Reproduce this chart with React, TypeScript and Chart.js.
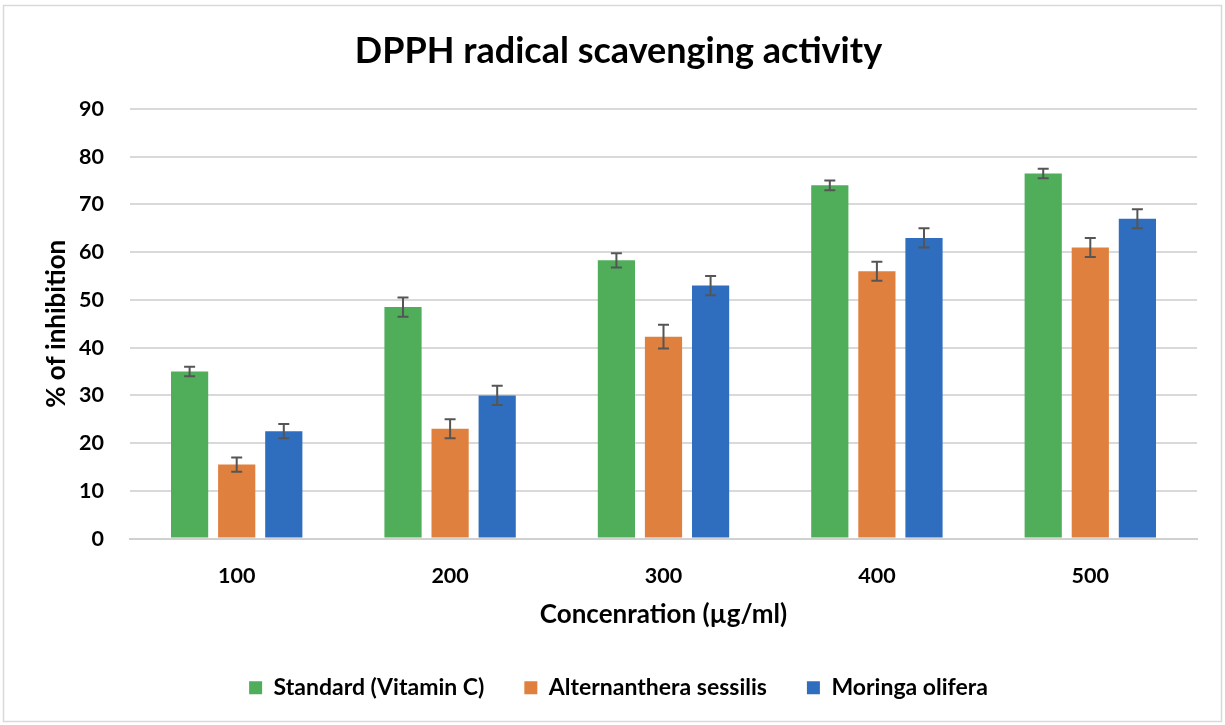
import React, { useEffect, useRef } from "react";
import { Chart, registerables } from "chart.js";

Chart.register(...registerables);

const categories = ["100", "200", "300", "400", "500"];
const seriesNames = ["Standard (Vitamin C)", "Alternanthera sessilis", "Moringa olifera"];
const standardValues = [35, 48.5, 58.3, 74, 76.5];
const standardErrors = [1, 2, 1.5, 1, 1];
const sessilisValues = [15.5, 23, 42.3, 56, 61];
const sessilisErrors = [1.5, 2, 2.5, 2, 2];
const moringaValues = [22.5, 30, 53, 63, 67];
const moringaErrors = [1.5, 2, 2, 2, 2];
const seriesColors = ["#50AE5B", "#E0803F", "#2F6EBE"];

const FONT = "Lato, 'Open Sans', sans-serif";

const errorBarPlugin = {
  id: "errorBars",
  afterDatasetsDraw(chart: any) {
    const ctx = chart.ctx;
    const y = chart.scales.y;
    chart.data.datasets.forEach((ds: any, i: number) => {
      const meta = chart.getDatasetMeta(i);
      meta.data.forEach((el: any, j: number) => {
        const v = ds.data[j];
        const e = ds.errors[j];
        const top = y.getPixelForValue(v + e);
        const bot = y.getPixelForValue(v - e);
        ctx.save();
        ctx.strokeStyle = "#555555";
        ctx.lineWidth = 2;
        ctx.beginPath();
        ctx.moveTo(el.x, top);
        ctx.lineTo(el.x, bot);
        ctx.moveTo(el.x - 5.5, top);
        ctx.lineTo(el.x + 5.5, top);
        ctx.moveTo(el.x - 5.5, bot);
        ctx.lineTo(el.x + 5.5, bot);
        ctx.stroke();
        ctx.restore();
      });
    });
  },
};

const borderPlugin = {
  id: "outerBorder",
  beforeDraw(chart: any) {
    const ctx = chart.ctx;
    ctx.save();
    ctx.fillStyle = "#ffffff";
    ctx.fillRect(0, 0, chart.width, chart.height);
    ctx.strokeStyle = "#d9d9d9";
    ctx.lineWidth = 1.5;
    ctx.strokeRect(3.5, 5.5, chart.width - 7, chart.height - 9);
    ctx.restore();
  },
};

export default function App() {
  const ref = useRef<HTMLCanvasElement>(null);
  useEffect(() => {
    if (!ref.current) return;
    const valuesList = [standardValues, sessilisValues, moringaValues];
    const errorsList = [standardErrors, sessilisErrors, moringaErrors];
    const chart = new Chart(ref.current, {
      type: "bar",
      data: {
        labels: categories,
        datasets: seriesNames.map((name, i) => ({
          label: name,
          data: valuesList[i],
          errors: errorsList[i],
          backgroundColor: seriesColors[i],
          borderWidth: 0,
          categoryPercentage: 0.662,
          barPercentage: 0.79,
        })) as any,
      },
      options: {
        animation: false,
        responsive: false,
        devicePixelRatio: 1,
        layout: { padding: { top: 12, right: 12, bottom: 15.8, left: 24 } },
        plugins: {
          title: {
            display: true,
            text: "DPPH radical scavenging activity",
            color: "#000000",
            font: { family: FONT, size: 36, weight: "bold" },
            padding: { top: 18, bottom: 35.8 },
          },
          legend: {
            position: "bottom",
            labels: {
              color: "#000000",
              boxWidth: 13,
              boxHeight: 13,
              padding: 40,
              font: { family: FONT, size: 23, weight: "bold" },
            },
          },
          tooltip: { enabled: false },
        },
        scales: {
          x: {
            afterFit: (scale: any) => {
              scale.height = 97.6;
            },
            grid: { display: false, drawTicks: false },
            border: { display: true, color: "#d0d0d0", width: 2 },
            ticks: {
              color: "#000000",
              padding: 25,
              font: { family: FONT, size: 21.5, weight: "bold" },
            },
            title: {
              display: true,
              text: "Concenration (µg/ml)",
              color: "#000000",
              font: { family: FONT, size: 26, weight: "bold" },
              padding: { top: 0, bottom: 6.2 },
            },
          },
          y: {
            min: 0,
            max: 90,
            afterFit: (scale: any) => {
              scale.width = 106;
            },
            ticks: {
              stepSize: 10,
              color: "#000000",
              padding: 26,
              font: { family: FONT, size: 21.5, weight: "bold" },
            },
            grid: { color: "#d9d9d9", lineWidth: 2, drawTicks: false },
            border: { display: false },
            title: {
              display: true,
              text: "% of inhibition",
              color: "#000000",
              font: { family: FONT, size: 26, weight: "bold" },
              padding: { top: 17.4, bottom: 0 },
            },
          },
          y2: {
            position: "right",
            display: true,
            afterFit: (scale: any) => {
              scale.width = 16;
            },
            grid: { display: false, drawTicks: false },
            border: { display: false },
            ticks: { display: false },
          },
        },
      },
      plugins: [borderPlugin, errorBarPlugin],
    } as any);
    return () => chart.destroy();
  }, []);
  return (
    <div style={{ position: "fixed", left: 0, top: 0, width: 1225, height: 725 }}>
      <canvas ref={ref} width={1225} height={725} style={{ width: 1225, height: 725, display: "block" }} />
    </div>
  );
}
